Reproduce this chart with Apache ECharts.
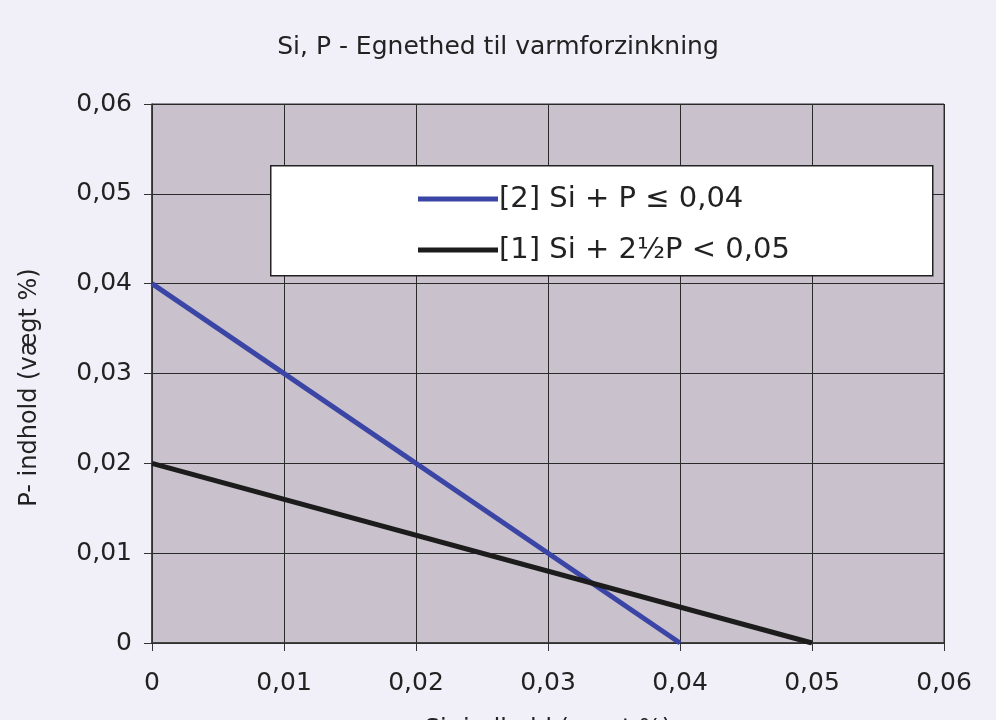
<!DOCTYPE html>
<html>
<head>
<meta charset="utf-8">
<script src="https://cdn.jsdelivr.net/npm/echarts@6/dist/echarts.min.js"></script>
<style>
html,body{margin:0;padding:0;background:#f1eff8;}
#c{width:996px;height:720px;}
</style>
</head>
<body>
<div id="c"></div>
<script>
var titleText = 'Si, P - Egnethed til varmforzinkning';
var xName = 'Si- indhold (vægt %)';
var yName = 'P- indhold (vægt %)';
var seriesNames = ['[2] Si + P \u2264 0,04', '[1] Si + 2\u00BDP < 0,05'];
var siBlue = [0, 0.04];
var pBlue = [0.04, 0];
var siBlack = [0, 0.05];
var pBlack = [0.02, 0];
var axisMin = 0, axisMax = 0.06, axisStep = 0.01;

function pairs(xs, ys){ return xs.map(function(x,i){ return [x, ys[i]]; }); }
function fmt(v){ return String(+v.toFixed(2)).replace('.', ','); }

var font = 'DejaVu Sans';
var chart = echarts.init(document.getElementById('c'));
chart.setOption({
  backgroundColor: '#f1eff8',
  animation: false,
  title: {
    text: titleText, left: 'center', top: 30,
    textStyle: {fontFamily: font, fontSize: 25, fontWeight: 'normal', color: '#222'}
  },
  graphic: [{
    type: 'rect', left: 270, top: 165, z: 5,
    shape: {width: 662, height: 110},
    style: {fill: '#ffffff', stroke: '#222', lineWidth: 1.5}
  }],
  legend: {
    orient: 'vertical', left: 413, top: 178, z: 10,
    itemWidth: 80, itemHeight: 5, itemGap: 19, icon: 'rect',
    textStyle: {fontFamily: font, fontSize: 29, color: '#222', lineHeight: 32, padding: [0,0,0,-4]},
    data: seriesNames
  },
  grid: {
    left: 152, right: 52, top: 104, bottom: 77,
    outerBoundsMode: 'none', containLabel: false,
    show: true, backgroundColor: '#c9c1cb', borderColor: '#333', borderWidth: 1
  },
  xAxis: {
    type: 'value', min: axisMin, max: axisMax, interval: axisStep,
    name: xName, nameLocation: 'middle', nameGap: 75,
    nameTextStyle: {fontFamily: font, fontSize: 24, color: '#222', verticalAlign: 'top'},
    axisLine: {show: true, lineStyle: {color: '#333', width: 1.5}},
    axisTick: {show: true, length: 8, lineStyle: {color: '#333'}},
    axisLabel: {fontFamily: font, fontSize: 25, color: '#222', margin: 28, formatter: fmt},
    splitLine: {show: true, lineStyle: {color: '#2a2a2a', width: 1}}
  },
  yAxis: {
    type: 'value', min: axisMin, max: axisMax, interval: axisStep,
    name: yName, nameLocation: 'middle', nameGap: 110, nameRotate: 90,
    nameTextStyle: {fontFamily: font, fontSize: 24, color: '#222', padding: [0, 28, 0, 0]},
    axisLine: {show: true, lineStyle: {color: '#333', width: 1.5}},
    axisTick: {show: true, length: 8, lineStyle: {color: '#333'}},
    axisLabel: {fontFamily: font, fontSize: 25, color: '#222', margin: 20, formatter: fmt},
    splitLine: {show: true, lineStyle: {color: '#2a2a2a', width: 1}}
  },
  series: [
    {name: seriesNames[0], type: 'line', data: pairs(siBlue, pBlue), showSymbol: false, symbol: 'none',
     lineStyle: {color: '#3a45a5', width: 5}, itemStyle: {color: '#3a45a5'}},
    {name: seriesNames[1], type: 'line', data: pairs(siBlack, pBlack), showSymbol: false, symbol: 'none',
     lineStyle: {color: '#1c1c1c', width: 5}, itemStyle: {color: '#1c1c1c'}}
  ]
});
</script>
</body>
</html>
